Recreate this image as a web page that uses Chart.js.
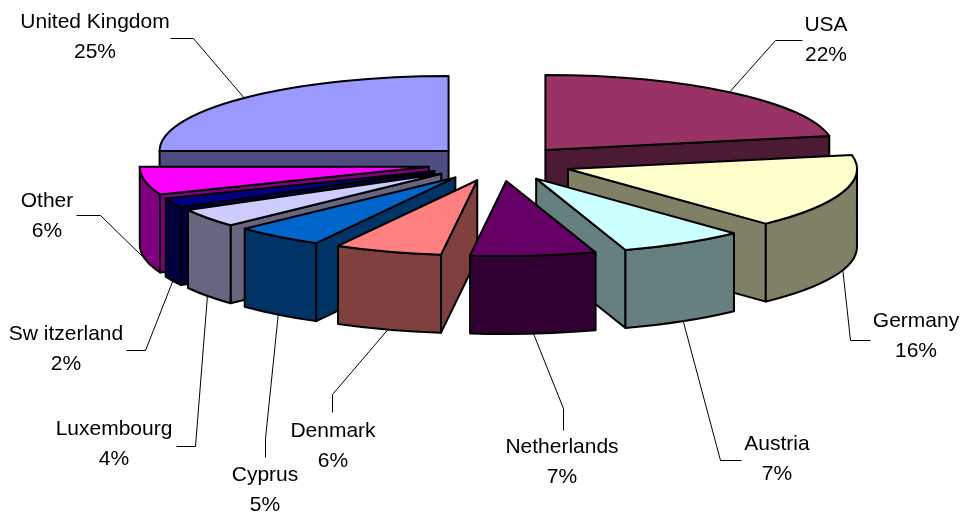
<!DOCTYPE html>
<html>
<head>
<meta charset="utf-8">
<title>Pie</title>
<style>
  html, body { margin: 0; padding: 0; background: #fff; }
  canvas { display: block; }
</style>
<script src="https://cdn.jsdelivr.net/npm/chart.js@4/dist/chart.umd.min.js"></script>
</head>
<body>
<canvas id="grafico" width="963" height="517"></canvas>
<script>
const categories = ["USA", "Germany", "Austria", "Netherlands", "Denmark", "Cyprus", "Luxembourg", "Sw itzerland", "Other", "United Kingdom"];
const percents = [22, 16, 7, 7, 6, 5, 4, 2, 6, 25];
const topColors = ["#993366", "#FFFFCC", "#CCFFFF", "#660066", "#FF8080", "#0066CC", "#CCCCFF", "#000080", "#FF00FF", "#9999FF"];
const wallColors = ["#4D1A33", "#808066", "#668080", "#330033", "#804040", "#003366", "#666680", "#000040", "#800080", "#4D4D80"];

// label centres and the elbow of each leader line
const labelX = [826, 916, 777, 562, 333, 265, 114, 66, 47, 95];
const labelY = [25, 321, 444, 447, 431, 475, 429, 334, 201, 22];
const leaderStart = [[802, 40], [870, 340], [741, 460], [563, 430], [332, 412], [265, 457], [176, 446], [126, 350], [76, 215], [170, 38]];
const leaderElbow = [[775, 40], [850, 340], [720, 460], [563, 408], [332, 394], [265, 438], [195, 446], [145, 350], [100, 215], [193, 38]];

// tilted view
const centerX = 499.5, centerY = 163.5;
const radiusX = 289, radiusY = 75;
const explodeX = 72, explodeY = 17.6;
const depth = 78;

function sliceGeometry(arc) {
  const mid = (arc.startAngle + arc.endAngle) / 2;
  return {
    s: arc.startAngle,
    e: arc.endAngle,
    mid: mid,
    x: centerX + Math.cos(mid) * explodeX,
    y: centerY + Math.sin(mid) * explodeY
  };
}

function edgeFace(ctx, g, angle, fill) {
  const px = g.x + Math.cos(angle) * radiusX;
  const py = g.y + Math.sin(angle) * radiusY;
  ctx.beginPath();
  ctx.moveTo(g.x, g.y);
  ctx.lineTo(px, py);
  ctx.lineTo(px, py + depth);
  ctx.lineTo(g.x, g.y + depth);
  ctx.closePath();
  ctx.fillStyle = fill;
  ctx.fill();
  ctx.stroke();
}

function rimFace(ctx, g, fill) {
  const a = Math.max(g.s, 0);
  const b = Math.min(g.e, Math.PI);
  if (b <= a) return;
  ctx.beginPath();
  ctx.ellipse(g.x, g.y, radiusX, radiusY, 0, a, b);
  ctx.ellipse(g.x, g.y + depth, radiusX, radiusY, 0, b, a, true);
  ctx.closePath();
  ctx.fillStyle = fill;
  ctx.fill();
  ctx.stroke();
}

// paints the slices back to front, with their walls, instead of the flat pie
const tiltedPie = {
  id: "tiltedPie",
  beforeDatasetDraw(chart, args) {
    const ctx = chart.ctx;
    const arcs = chart.getDatasetMeta(args.index).data;
    const order = arcs.map((arc, i) => i).sort((i, j) => sliceGeometry(arcs[i]).y - sliceGeometry(arcs[j]).y);

    ctx.save();
    ctx.strokeStyle = "#000";
    ctx.lineWidth = 2;
    ctx.lineJoin = "round";
    order.forEach(i => {
      const arc = arcs[i];
      const g = sliceGeometry(arc);
      if (Math.cos(g.s) < 0) edgeFace(ctx, g, g.s, wallColors[i]);
      if (Math.cos(g.e) > 0) edgeFace(ctx, g, g.e, wallColors[i]);
      rimFace(ctx, g, wallColors[i]);

      ctx.save();
      ctx.translate(g.x, g.y);
      ctx.scale(radiusX / arc.outerRadius, radiusY / arc.outerRadius);
      ctx.translate(-arc.x, -arc.y);
      arc.draw(ctx);
      ctx.restore();

      ctx.beginPath();
      ctx.moveTo(g.x, g.y);
      ctx.ellipse(g.x, g.y, radiusX, radiusY, 0, g.s, g.e);
      ctx.closePath();
      ctx.stroke();
    });
    ctx.restore();
    return false;
  },
  afterDatasetsDraw(chart) {
    const ctx = chart.ctx;
    const arcs = chart.getDatasetMeta(0).data;
    ctx.save();
    ctx.strokeStyle = "#000";
    ctx.lineWidth = 1;
    ctx.fillStyle = "#000";
    ctx.font = "21px 'Liberation Sans', Arial, sans-serif";
    ctx.textAlign = "center";
    ctx.textBaseline = "middle";
    arcs.forEach((arc, i) => {
      const g = sliceGeometry(arc);
      const front = Math.sin(g.mid) > 0;
      ctx.beginPath();
      ctx.moveTo(leaderStart[i][0] + 0.5, leaderStart[i][1] + 0.5);
      ctx.lineTo(leaderElbow[i][0] + 0.5, leaderElbow[i][1] + 0.5);
      ctx.lineTo(g.x + Math.cos(g.mid) * radiusX, g.y + Math.sin(g.mid) * radiusY + (front ? depth : 0));
      ctx.stroke();
      ctx.fillText(categories[i], labelX[i], labelY[i]);
      ctx.fillText(percents[i] + "%", labelX[i], labelY[i] + 30);
    });
    ctx.restore();
  }
};

new Chart(document.getElementById("grafico"), {
  type: "pie",
  data: {
    labels: categories,
    datasets: [{
      data: percents,
      backgroundColor: topColors,
      borderWidth: 0
    }]
  },
  options: {
    responsive: false,
    animation: false,
    plugins: {
      legend: { display: false },
      tooltip: { enabled: false }
    }
  },
  plugins: [tiltedPie]
});
</script>
</body>
</html>
